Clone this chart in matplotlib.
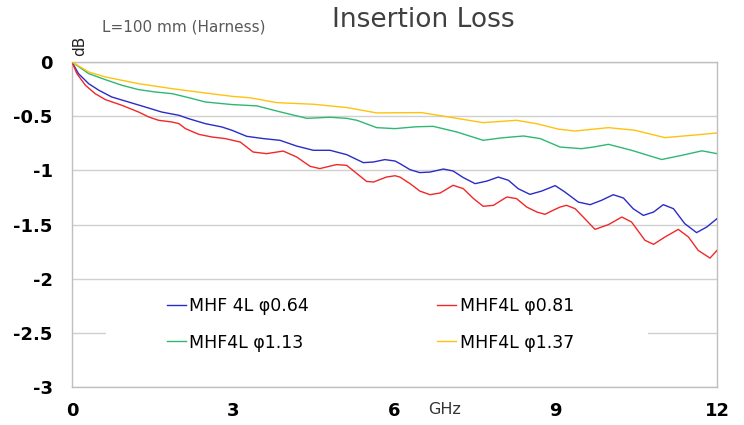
import matplotlib.pyplot as plt
from matplotlib.patches import Rectangle

# Insertion loss readings (GHz, dB) for each cable
x_064 = [0, 0.12, 0.31, 0.50, 0.74, 1.05, 1.36, 1.67, 1.99, 2.17, 2.48, 2.79, 2.98, 3.25,
         3.56, 3.87, 4.18, 4.49, 4.80, 5.11, 5.42, 5.61, 5.82, 6.01, 6.10, 6.29, 6.47,
         6.66, 6.91, 7.09, 7.28, 7.50, 7.72, 7.93, 8.12, 8.30, 8.52, 8.74, 8.99, 9.17,
         9.42, 9.64, 9.85, 10.07, 10.26, 10.44, 10.63, 10.82, 11.0, 11.19, 11.40, 11.62,
         11.81, 12.0]
y_064 = [0, -0.107, -0.2, -0.261, -0.323, -0.369, -0.415, -0.462, -0.492, -0.523, -0.569,
         -0.6, -0.631, -0.686, -0.707, -0.723, -0.776, -0.815, -0.815, -0.855, -0.929,
         -0.923, -0.901, -0.914, -0.938, -0.994, -1.021, -1.016, -0.988, -1.006, -1.067,
         -1.123, -1.099, -1.062, -1.092, -1.169, -1.222, -1.191, -1.141, -1.2, -1.293,
         -1.317, -1.277, -1.225, -1.256, -1.354, -1.416, -1.385, -1.317, -1.354, -1.492,
         -1.575, -1.523, -1.446]

x_081 = [0, 0.09, 0.25, 0.43, 0.62, 0.93, 1.24, 1.43, 1.61, 1.86, 1.99, 2.11, 2.36, 2.60,
         2.85, 3.13, 3.37, 3.62, 3.93, 4.18, 4.43, 4.61, 4.92, 5.11, 5.30, 5.48, 5.61,
         5.85, 6.01, 6.10, 6.29, 6.47, 6.66, 6.85, 7.09, 7.28, 7.47, 7.65, 7.84, 8.09,
         8.27, 8.46, 8.65, 8.80, 8.95, 9.08, 9.20, 9.36, 9.54, 9.73, 9.98, 10.23, 10.41,
         10.66, 10.82, 11.03, 11.28, 11.47, 11.65, 11.87, 12.0]
y_081 = [0, -0.107, -0.215, -0.292, -0.347, -0.40, -0.462, -0.508, -0.538, -0.554, -0.569,
         -0.615, -0.668, -0.692, -0.707, -0.739, -0.831, -0.846, -0.822, -0.877, -0.963,
         -0.984, -0.947, -0.954, -1.03, -1.102, -1.108, -1.062, -1.05, -1.062, -1.123,
         -1.191, -1.225, -1.209, -1.138, -1.169, -1.261, -1.332, -1.323, -1.246, -1.261,
         -1.339, -1.385, -1.406, -1.369, -1.339, -1.323, -1.354, -1.446, -1.545, -1.501,
         -1.431, -1.477, -1.646, -1.683, -1.616, -1.545, -1.616, -1.739, -1.81, -1.739]

x_113 = [0, 0.31, 0.62, 0.93, 1.24, 1.55, 1.86, 2.17, 2.48, 2.79, 2.98, 3.44, 3.87, 4.37,
         4.8, 5.11, 5.30, 5.67, 6.01, 6.4, 6.72, 7.16, 7.65, 8.0, 8.4, 8.71, 9.08, 9.48,
         9.7, 9.98, 10.41, 10.97, 11.35, 11.72, 12]
y_113 = [0, -0.107, -0.163, -0.215, -0.255, -0.277, -0.292, -0.329, -0.369, -0.384,
         -0.393, -0.405, -0.46, -0.52, -0.51, -0.52, -0.538, -0.606, -0.615, -0.598,
         -0.594, -0.646, -0.723, -0.70, -0.683, -0.707, -0.785, -0.80, -0.785, -0.76,
         -0.815, -0.90, -0.861, -0.82, -0.846]

x_137 = [0, 0.31, 0.62, 1.24, 1.86, 2.48, 2.98, 3.31, 3.81, 4.49, 5.11, 5.67, 6.5, 6.91,
         7.65, 8.27, 8.65, 9.05, 9.36, 9.98, 10.47, 11.03, 11.59, 12]
y_137 = [0, -0.092, -0.138, -0.2, -0.246, -0.286, -0.317, -0.33, -0.375, -0.39, -0.42,
         -0.47, -0.467, -0.50, -0.56, -0.538, -0.57, -0.62, -0.637, -0.606, -0.63, -0.698,
         -0.674, -0.655]

labels = ['MHF 4L φ0.64', 'MHF4L φ0.81', 'MHF4L φ1.13', 'MHF4L φ1.37']
colors = ['#2B2BC8', '#F02828', '#2EB872', '#FFC20E']
x_ticks = [0, 3, 6, 9, 12]
y_ticks = [0, -0.5, -1, -1.5, -2, -2.5, -3]

fig = plt.figure(figsize=(7.44, 4.25), dpi=100)
ax = fig.add_axes([72 / 744, 1 - 387 / 425, 645 / 744, 325 / 425])

series = [(x_064, y_064), (x_081, y_081), (x_113, y_113), (x_137, y_137)]
handles = []
for (xs, ys), lab, c in zip(series, labels, colors):
    h, = ax.plot(xs, ys, color=c, lw=1.0, label=lab, zorder=3)
    handles.append(h)

ax.set_xlim(0, 12)
ax.set_ylim(-3, 0)
ax.set_xticks(x_ticks)
ax.set_yticks(y_ticks)
ax.set_xticklabels([str(t) for t in x_ticks])
ax.set_yticklabels(['0', '-0.5', '-1', '-1.5', '-2', '-2.5', '-3'])
ax.tick_params(length=0, labelsize=13)
ax.tick_params(axis='y', pad=14)
ax.tick_params(axis='x', pad=11)
for lab in ax.get_xticklabels() + ax.get_yticklabels():
    lab.set_fontweight('bold')

ax.yaxis.grid(True, color='#D0D0D0', lw=1.0)
ax.set_axisbelow(True)
for s in ax.spines.values():
    s.set_color('#BFBFBF')
    s.set_linewidth(1.0)

# white legend area that hides part of the gridlines
ax.add_patch(Rectangle((0.053, 0.05), 0.84, 0.26, transform=ax.transAxes,
                       facecolor='white', edgecolor='none', zorder=2))

# two legend columns placed separately
leg_kw = dict(loc='upper left', frameon=False, fontsize=12.5, handlelength=1.1,
              handletextpad=0.2, labelspacing=1.05, borderpad=0, borderaxespad=0)
leg1 = ax.legend(handles[0::2], labels[0::2], bbox_to_anchor=(0.147, 0.276), **leg_kw)
ax.add_artist(leg1)
ax.legend(handles[1::2], labels[1::2], bbox_to_anchor=(0.566, 0.276), **leg_kw)

fig.text(0.569, 0.953, 'Insertion Loss', ha='center', va='center',
         fontsize=19, color='#404040')
fig.text(102 / 744, 1 - 27 / 425, 'L=100 mm (Harness)', ha='left', va='center',
         fontsize=11, color='#595959')
fig.text(80 / 744, 1 - 46 / 425, 'dB', ha='center', va='center', rotation=90,
         fontsize=11, color='#222222')
fig.text(445 / 744, 1 - 410 / 425, 'GHz', ha='center', va='center',
         fontsize=11.5, color='#333333')

fig.savefig('out.png', dpi=100)
